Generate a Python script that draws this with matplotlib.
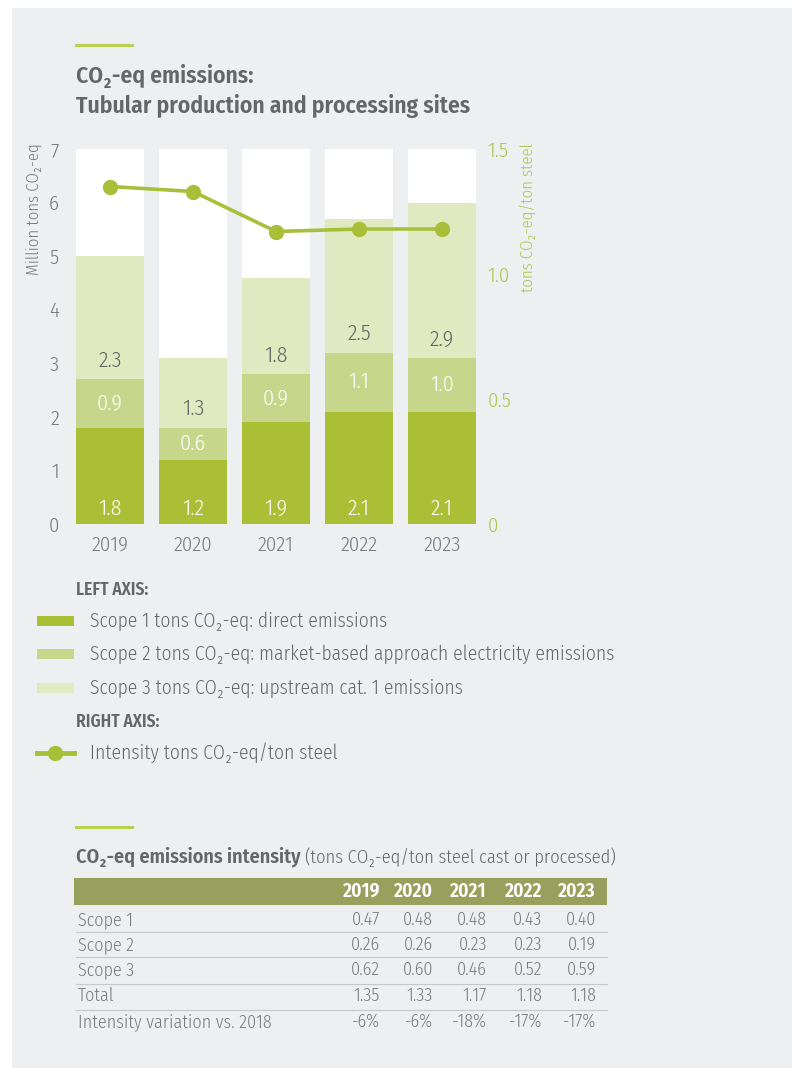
import matplotlib
matplotlib.use('Agg')
import matplotlib.pyplot as plt
from matplotlib.patches import Rectangle
from matplotlib.lines import Line2D
import numpy as np

plt.rcParams['font.family'] = ['Fira Sans Condensed', 'DejaVu Sans']
plt.rcParams['font.weight'] = 300

years = ['2019', '2020', '2021', '2022', '2023']
scope1 = [1.8, 1.2, 1.9, 2.1, 2.1]
scope2 = [0.9, 0.6, 0.9, 1.1, 1.0]
scope3 = [2.3, 1.3, 1.8, 2.5, 2.9]
intensity = [1.35, 1.33, 1.17, 1.18, 1.18]

row_names = ['Scope 1', 'Scope 2', 'Scope 3', 'Total', 'Intensity variation vs. 2018']
row_values = [
    ['0.47', '0.48', '0.48', '0.43', '0.40'],
    ['0.26', '0.26', '0.23', '0.23', '0.19'],
    ['0.62', '0.60', '0.46', '0.52', '0.59'],
    ['1.35', '1.33', '1.17', '1.18', '1.18'],
    ['-6%', '-6%', '-18%', '-17%', '-17%'],
]

BG = '#eeeff1'
C1 = '#aabf35'
C2 = '#c6d68b'
C3 = '#e1e9c1'
LINE = '#a9bf3a'
ACCENT = '#bccf52'
HEAD = '#99a05d'
TXT = '#666666'
LIGHT = '#7a7a7a'
GREEN_TXT = '#b2c54e'

W, H = 792, 1068


def fx(px):
    return px / W


def fy(py):
    return 1 - py / H


fig = plt.figure(figsize=(W / 100, H / 100), dpi=100)
fig.patch.set_facecolor('white')
fig.add_artist(Rectangle((fx(12), 0), 1 - fx(12), fy(8), transform=fig.transFigure,
                         facecolor=BG, edgecolor='none', zorder=-10))

# accent strokes above the two headings
for yy in (45, 827):
    fig.add_artist(Line2D([fx(76), fx(132)], [fy(yy), fy(yy)], color=ACCENT, lw=2.2))

fig.text(fx(76), fy(76), 'CO₂-eq emissions:', fontsize=17, fontweight=600, color=TXT, va='center')
fig.text(fx(76), fy(106), 'Tubular production and processing sites', fontsize=17, fontweight=600,
         color=TXT, va='center')

# stacked bars
ax = fig.add_axes([fx(70), fy(524), (482 - 70) / W, (524 - 149) / H])
ax.set_facecolor('none')
x = np.arange(len(years))
width = 0.82
ax.set_ylim(0, 7)
ax.set_xlim(-0.482, 4.482)
top = ax.get_ylim()[1]
ax.bar(x, [top] * len(x), width, color='white', zorder=1)
b1 = np.array(scope1)
b2 = b1 + np.array(scope2)
ax.bar(x, scope1, width, color=C1, zorder=2)
ax.bar(x, scope2, width, bottom=b1, color=C2, zorder=2)
ax.bar(x, scope3, width, bottom=b2, color=C3, zorder=2)

for i in range(len(x)):
    ax.text(x[i], 0.28, f'{scope1[i]:.1f}', ha='center', va='center', color='white', fontsize=16, zorder=3)
    ax.text(x[i], b1[i] + scope2[i] / 2, f'{scope2[i]:.1f}', ha='center', va='center', color='white',
            fontsize=16, zorder=3)
    ax.text(x[i], b2[i] + 0.35, f'{scope3[i]:.1f}', ha='center', va='center', color=TXT, fontsize=16,
            zorder=3)

for s in ax.spines.values():
    s.set_visible(False)
ax.set_xticks(x)
ax.set_xticklabels(years)
ax.set_yticks(range(8))
ax.tick_params(axis='both', length=0, labelsize=15, colors=LIGHT)
ax.tick_params(axis='y', pad=8)
ax.tick_params(axis='x', pad=8)

ax2 = ax.twinx()
ax2.set_ylim(0, 1.5)
ax2.plot(x, intensity, color=LINE, lw=2.6, marker='o', markersize=10, zorder=5)
for s in ax2.spines.values():
    s.set_visible(False)
ax2.set_yticks([0, 0.5, 1.0, 1.5])
ax2.set_yticklabels(['0', '0.5', '1.0', '1.5'])
ax2.tick_params(axis='y', length=0, labelsize=15, colors=GREEN_TXT, pad=4)

fig.text(fx(34), fy(143), 'Million tons CO₂-eq', rotation=90, fontsize=12, color=LIGHT,
         ha='center', va='top')
fig.text(fx(528), fy(143), 'tons CO₂-eq/ton steel', rotation=90, fontsize=12, color=GREEN_TXT,
         ha='center', va='top')

# legend
fig.text(fx(76), fy(590), 'LEFT AXIS:', fontsize=12.5, fontweight=600, color=TXT, va='center')
legend_items = [
    (C1, 'Scope 1 tons CO₂-eq: direct emissions', 621),
    (C2, 'Scope 2 tons CO₂-eq: market-based approach electricity emissions', 654),
    (C3, 'Scope 3 tons CO₂-eq: upstream cat. 1 emissions', 688),
]
for col, label, yy in legend_items:
    fig.add_artist(Rectangle((fx(37), fy(yy + 5)), (74 - 37) / W, 10 / H, transform=fig.transFigure,
                             facecolor=col, edgecolor='none'))
    fig.text(fx(90), fy(yy), label, fontsize=14, color=TXT, va='center')
fig.text(fx(76), fy(722), 'RIGHT AXIS:', fontsize=12.5, fontweight=600, color=TXT, va='center')
fig.add_artist(Line2D([fx(37), fx(74)], [fy(753), fy(753)], color=LINE, lw=3.5))
fig.add_artist(Line2D([fx(55.5)], [fy(753)], color=LINE, marker='o', markersize=10))
fig.text(fx(90), fy(753), 'Intensity tons CO₂-eq/ton steel', fontsize=14, color=TXT, va='center')

# intensity table
t_bold = fig.text(fx(76), fy(857), 'CO₂-eq emissions intensity', fontsize=14.5, fontweight=600,
                  color=TXT, va='center')
fig.canvas.draw()
bb = t_bold.get_window_extent()
fig.text((bb.x1 + 4) / W, fy(857), '(tons CO₂-eq/ton steel cast or processed)', fontsize=13.3,
         color=TXT, va='center')
fig.add_artist(Rectangle((fx(74), fy(905)), (607 - 74) / W, 27 / H, transform=fig.transFigure,
                         facecolor=HEAD, edgecolor='none'))
col_right = [380, 433, 487, 542, 596]
for yr, cx in zip(years, col_right):
    fig.text(fx(cx), fy(891), yr, fontsize=14, fontweight=600, color='white', ha='right', va='center')
row_y = [920, 945, 970, 996, 1022]
for name, vals, yy in zip(row_names, row_values, row_y):
    fig.text(fx(78), fy(yy), name, fontsize=13, color=LIGHT, va='center')
    for v, cx in zip(vals, col_right):
        fig.text(fx(cx), fy(yy), v, fontsize=13, color=LIGHT, ha='right', va='center')
for yy in (932, 957, 984, 1010):
    fig.add_artist(Line2D([fx(76), fx(607)], [fy(yy), fy(yy)], color='#c9c9c9', lw=0.9))

fig.savefig('out.png', dpi=100, facecolor=fig.get_facecolor())
